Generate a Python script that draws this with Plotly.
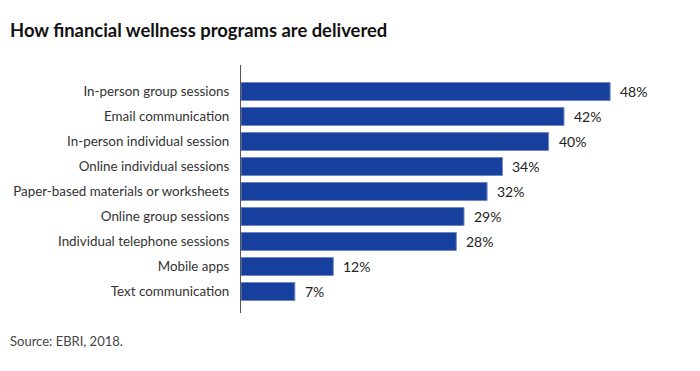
import plotly.graph_objects as go

categories = [
    "In-person group sessions",
    "Email communication",
    "In-person individual session",
    "Online individual sessions",
    "Paper-based materials or worksheets",
    "Online group sessions",
    "Individual telephone sessions",
    "Mobile apps",
    "Text communication",
]
values = [48, 42, 40, 34, 32, 29, 28, 12, 7]
value_labels = ["48%", "42%", "40%", "34%", "32%", "29%", "28%", "12%", "7%"]

positions = list(range(len(categories)))
FONT = "Lato"

L, T, B = 233, 57, 66
PW, PH = 700 - L, 371 - T - B

fig = go.Figure()
fig.add_trace(go.Bar(
    x=values,
    y=positions,
    orientation="h",
    width=0.72,
    marker=dict(color="#163f9e", line=dict(color="#7089c6", width=1)),
    hoverinfo="skip",
))

for v, p, t in zip(values, positions, value_labels):
    fig.add_annotation(
        x=v, y=p, text=t, showarrow=False, xanchor="left", yanchor="middle",
        xshift=8, font=dict(family=FONT, size=14, color="#222222"),
    )

fig.update_layout(
    width=700, height=371,
    margin=dict(l=L, r=0, t=T, b=B, autoexpand=False),
    paper_bgcolor="white", plot_bgcolor="white",
    showlegend=False,
    font=dict(family=FONT, size=14, color="#333333"),
)

fig.update_xaxes(range=[0, PW / 7.69], showgrid=False, zeroline=False,
                 showticklabels=False, showline=False, automargin=False)
fig.update_yaxes(
    range=[8.86, -1.06],
    tickvals=positions, ticktext=categories,
    showgrid=False, zeroline=False, automargin=False,
    showline=True, linecolor="#555555", linewidth=1,
    ticks="outside", ticklen=8, tickcolor="rgba(0,0,0,0)",
    tickfont=dict(family=FONT, size=13.4, color="#333333"),
)

fig.add_annotation(
    text="<b>How financial wellness programs are delivered</b>",
    xref="paper", yref="paper",
    x=-L / PW, y=1 + (T - 22) / PH, xanchor="left", yanchor="middle",
    showarrow=False, font=dict(family=FONT, size=18.4, color="#111111"),
)
fig.add_annotation(
    text="Source: EBRI, 2018.", xref="paper", yref="paper",
    x=-L / PW, y=-(333 - (371 - B)) / PH, xanchor="left", yanchor="middle",
    showarrow=False, font=dict(family=FONT, size=13, color="#444444"),
)

fig.write_html("out.html")
